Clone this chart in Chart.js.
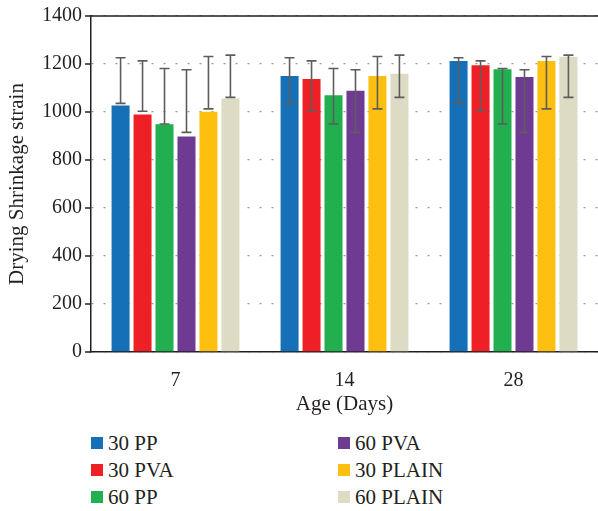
<!DOCTYPE html>
<html>
<head>
<meta charset="utf-8">
<script src="https://cdn.jsdelivr.net/npm/chart.js@4.4.1/dist/chart.umd.min.js"></script>
<style>
  html, body { margin: 0; padding: 0; background: #fff; }
  #wrap { position: relative; width: 598px; height: 511px; }
  #chart { position: absolute; left: 0; top: 0; }
  #legend { position: absolute; left: 0; top: 430px; width: 598px; height: 81px;
    font-family: "Liberation Serif", "DejaVu Serif", serif; font-size: 21px; color: #231f20; }
  .item { position: absolute; height: 24px; line-height: 24px; white-space: nowrap; }
  .item i { position: absolute; left: 0; top: 6px; width: 12px; height: 12px; }
  .item span { position: absolute; left: 17px; top: 0; }
</style>
</head>
<body>
<div id="wrap">
  <canvas id="chart" width="598" height="420"></canvas>
  <div id="legend"></div>
</div>
<script>
// ---------------------------------------------------------------------
// Data
// ---------------------------------------------------------------------
const ages = ["7", "14", "28"];
const seriesNames = ["30 PP", "30 PVA", "60 PP", "60 PVA", "30 PLAIN", "60 PLAIN"];
const seriesColors = ["#1570b8", "#ee2026", "#21af4f", "#6e3a92", "#fdc010", "#dddbc4"];

const pp30 = [1027, 1150, 1213];
const pva30 = [990, 1138, 1195];
const pp60 = [949, 1070, 1178];
const pva60 = [898, 1089, 1146];
const plain30 = [1001, 1150, 1213];
const plain60 = [1056, 1159, 1230];
const seriesValues = [pp30, pva30, pp60, pva60, plain30, plain60];

// error bar ends (same in every age group in the source figure)
const errLow = [1036, 1003, 950, 915, 1013, 1061];
const errHigh = [1226, 1213, 1181, 1176, 1231, 1237];

const yTicks = [0, 200, 400, 600, 800, 1000, 1200, 1400];

const FONT = "'Liberation Serif', 'DejaVu Serif', serif";
const AXIS = "#231f20";

// ---------------------------------------------------------------------
// Plugins: error bars, top frame line, y tick marks
// ---------------------------------------------------------------------
const errorBars = {
  id: "errorBars",
  afterDatasetsDraw(chart) {
    const ctx = chart.ctx;
    const y = chart.scales.y;
    ctx.save();
    ctx.strokeStyle = "#5d5d5d";
    ctx.lineWidth = 1.6;
    chart.data.datasets.forEach((ds, di) => {
      const meta = chart.getDatasetMeta(di);
      meta.data.forEach((bar) => {
        const x = bar.x;
        const lo = y.getPixelForValue(errLow[di]);
        const hi = y.getPixelForValue(errHigh[di]);
        ctx.beginPath();
        ctx.moveTo(x, lo); ctx.lineTo(x, hi);
        ctx.moveTo(x - 5, lo); ctx.lineTo(x + 5, lo);
        ctx.moveTo(x - 5, hi); ctx.lineTo(x + 5, hi);
        ctx.stroke();
      });
    });
    ctx.restore();
  },
};

const frame = {
  id: "frame",
  afterDraw(chart) {
    const { ctx, chartArea: a } = chart;
    const y = chart.scales.y;
    ctx.save();
    ctx.strokeStyle = AXIS;
    ctx.lineWidth = 1.5;
    ctx.beginPath();
    ctx.moveTo(a.left, a.top); ctx.lineTo(a.right, a.top);
    yTicks.forEach((v) => {
      const py = y.getPixelForValue(v);
      ctx.moveTo(a.left - 6, py); ctx.lineTo(a.left, py);
    });
    ctx.stroke();
    ctx.restore();
  },
};

// ---------------------------------------------------------------------
// Chart
// ---------------------------------------------------------------------
const datasets = seriesNames.map((name, i) => ({
  label: name,
  data: seriesValues[i],
  backgroundColor: seriesColors[i],
  borderWidth: 0,
  categoryPercentage: 0.78,
  barPercentage: 0.82,
}));

new Chart(document.getElementById("chart").getContext("2d"), {
  type: "bar",
  data: { labels: ages, datasets },
  options: {
    responsive: false,
    animation: false,
    layout: { padding: { top: 16, right: 0, bottom: 0, left: 0 } },
    plugins: { legend: { display: false }, tooltip: { enabled: false } },
    scales: {
      x: {
        offset: true,
        grid: { display: false, drawTicks: false },
        border: { color: AXIS, width: 1.5 },
        ticks: { color: AXIS, font: { family: FONT, size: 20 }, padding: 17 },
        title: { display: true, text: "Age (Days)", color: AXIS, font: { family: FONT, size: 21 }, padding: { top: 2, bottom: 3 } },
        afterFit: (s) => { s.height = 68; },
      },
      y: {
        min: 0, max: 1400,
        ticks: { stepSize: 200, color: AXIS, font: { family: FONT, size: 20 }, padding: 9,
          callback: (v) => String(v) },
        grid: { color: "#9a9a9a", lineWidth: 1.3, drawTicks: false },
        border: { color: AXIS, width: 1.5, dash: [2, 10] },
        title: { display: true, text: "Drying Shrinkage strain", color: AXIS, font: { family: FONT, size: 21 }, padding: { top: 5, bottom: 0 } },
        afterFit: (s) => { s.width = 91; s.paddingTop = 0; s.paddingBottom = 0; },
      },
    },
  },
  plugins: [errorBars, frame],
});

// ---------------------------------------------------------------------
// Legend (two columns, filled top-to-bottom)
// ---------------------------------------------------------------------
const legendEl = document.getElementById("legend");
const colX = [91, 338];
const rowY = [1, 28, 55];
legendEl.innerHTML = seriesNames.map((name, i) => {
  const col = Math.floor(i / 3), row = i % 3;
  return `<div class="item" style="left:${colX[col]}px;top:${rowY[row]}px">
    <i style="background:${seriesColors[i]}"></i><span>${name}</span></div>`;
}).join("");
</script>
</body>
</html>
